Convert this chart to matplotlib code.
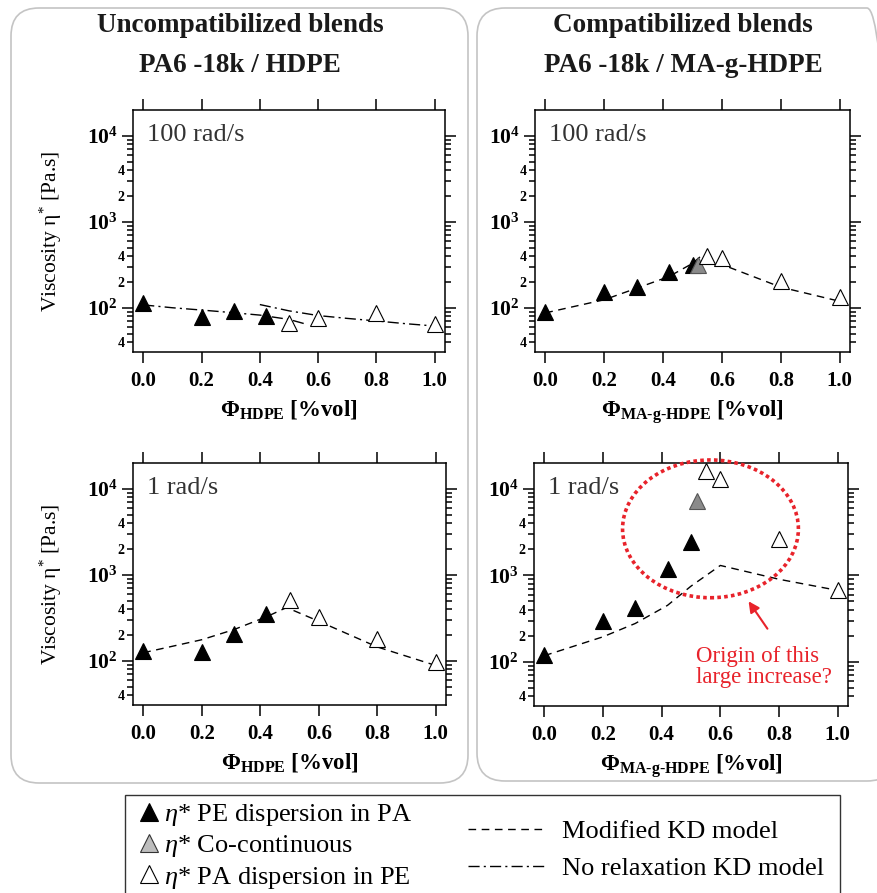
import numpy as np
import matplotlib
matplotlib.use("Agg")
import matplotlib.pyplot as plt
from matplotlib.lines import Line2D
from matplotlib.patches import FancyBboxPatch, Rectangle, Ellipse
from matplotlib.transforms import IdentityTransform

plt.rcParams['font.family'] = ['Liberation Serif', 'DejaVu Serif']
plt.rcParams['mathtext.fontset'] = 'custom'
plt.rcParams['mathtext.rm'] = 'Liberation Serif'
plt.rcParams['mathtext.it'] = 'Liberation Serif:italic'
plt.rcParams['mathtext.bf'] = 'Liberation Serif:bold'

# ---------------- data ----------------
# 100 rad/s, PA6-18k / HDPE
tl_pe_x = [0.0, 0.2, 0.31, 0.42]
tl_pe_y = [116, 79, 93, 81]
tl_pa_x = [0.5, 0.6, 0.8, 1.0]
tl_pa_y = [67, 77, 87, 65]
tl_norelax_a_x = [0.0, 0.1, 0.2, 0.3, 0.4, 0.5, 0.56]
tl_norelax_a_y = [109, 101, 95, 89, 83, 74, 65]
tl_norelax_b_x = [0.4, 0.5, 0.6, 0.7, 0.8, 0.9, 1.0]
tl_norelax_b_y = [110, 93, 82, 76, 71, 66, 62]

# 100 rad/s, PA6-18k / MA-g-HDPE
tr_pe_x = [0.0, 0.2, 0.31, 0.42, 0.5]
tr_pe_y = [89, 153, 178, 259, 315]
tr_co_x = [0.52]
tr_co_y = [312]
tr_pa_x = [0.55, 0.6, 0.8, 1.0]
tr_pa_y = [397, 383, 207, 133]
tr_kd_x = [0.0, 0.2, 0.31, 0.42, 0.5, 0.53, 0.6, 0.8, 1.0]
tr_kd_y = [88, 125, 170, 232, 330, 405, 320, 175, 120]

# 1 rad/s, PA6-18k / HDPE
bl_pe_x = [0.0, 0.2, 0.31, 0.42]
bl_pe_y = [131, 126, 207, 354]
bl_pa_x = [0.5, 0.6, 0.8, 1.0]
bl_pa_y = [515, 328, 180, 97]
bl_kd_x = [0.0, 0.2, 0.31, 0.42, 0.49, 0.6, 0.8, 1.0]
bl_kd_y = [125, 177, 232, 325, 418, 290, 146, 89]

# 1 rad/s, PA6-18k / MA-g-HDPE
br_pe_x = [0.0, 0.2, 0.31, 0.42, 0.5]
br_pe_y = [121, 300, 416, 1170, 2415]
br_co_x = [0.52]
br_co_y = [7290]
br_pa_x = [0.55, 0.6, 0.8, 1.0]
br_pa_y = [16000, 12900, 2600, 680]
br_kd_x = [0.0, 0.2, 0.31, 0.42, 0.5, 0.6, 0.8, 1.0]
br_kd_y = [118, 195, 278, 450, 750, 1300, 900, 670]

x_ticks = [0.0, 0.2, 0.4, 0.6, 0.8, 1.0]
y_major = [100, 1000, 10000]
y_minor = [m * 10.0 ** e for e in (1, 2, 3) for m in range(2, 10)]

RED = '#e8232b'
DASHED = (0, (5.5, 4))
DASHDOT = (0, (8, 3, 1.5, 3))
HY = '\u2010'

W, H = 877, 893
fig = plt.figure(figsize=(W / 100, H / 100), dpi=100)


def px_axes(left, top, right, bottom):
    return fig.add_axes([left / W, 1 - bottom / H, (right - left) / W, (bottom - top) / H])


def style(ax, xlabel_sub, ylabel=True):
    ax.set_yscale('log')
    ax.set_xticks(x_ticks, labels=['%.1f' % v for v in x_ticks],
                  fontsize=15, fontweight='bold')
    ax.set_yticks(y_major, labels=[r'$\mathbf{10^{%d}}$' % round(np.log10(v)) for v in y_major],
                  fontsize=15.5)
    minor_labels = []
    for v in y_minor:
        m = round(v / 10 ** np.floor(np.log10(v) + 1e-9))
        minor_labels.append(str(m) if m in (2, 4) else '')
    ax.set_yticks(y_minor, labels=minor_labels, minor=True, fontsize=10, fontweight='bold')
    ax.set_xlim(-0.035, 1.035)
    ax.set_ylim(31, 19800)
    ax.tick_params(which='both', direction='out', top=True, right=True, width=1.1)
    ax.tick_params(axis='x', which='major', length=8, pad=6)
    ax.tick_params(axis='y', which='major', length=8, pad=3)
    ax.tick_params(axis='y', which='minor', length=4, pad=2)
    for s in ax.spines.values():
        s.set_linewidth(1.1)
    ax.set_xlabel('Φ$_{\\mathbf{%s}}$ [%%vol]' % xlabel_sub, fontsize=16.5, fontweight='bold')
    ax.xaxis.set_label_coords(0.5, -0.19)
    if ylabel:
        ax.set_ylabel('Viscosity η$^{*}$ [Pa.s]', fontsize=15.5)
        ax.yaxis.set_label_coords(-0.222, 0.5)


def markers(ax, pe_x, pe_y, pa_x, pa_y, co_x=None, co_y=None):
    kw = dict(ls='none', marker='^', ms=12, clip_on=False, zorder=4)
    ax.plot(pe_x, pe_y, mfc='black', mec='black', mew=0.8, **kw)
    if co_x is not None:
        ax.plot(co_x, co_y, mfc='#8a8a8a', mec='#555555', mew=0.8, **kw)
    ax.plot(pa_x, pa_y, mfc='white', mec='black', mew=0.8, **kw)


def panel_label(ax, txt):
    ax.text(0.044, 0.872, txt, transform=ax.transAxes, fontsize=19,
            color='#333333', va='baseline', ha='left')


# rounded group frames
for (x0, y0, x1, y1) in [(11, 8, 468, 783), (477, 8, 895, 781)]:
    fig.add_artist(FancyBboxPatch((x0, H - y1), x1 - x0, y1 - y0,
                                  boxstyle='round,pad=0,rounding_size=28',
                                  transform=IdentityTransform(), fill=False,
                                  ec='#c4c4c4', lw=1.2))

fig.text(240 / W, 1 - 26 / H, 'Uncompatibilized blends', ha='center', va='center',
         fontsize=19.5, fontweight='bold', color='#1a1a1a')
fig.text(240 / W, 1 - 66 / H, 'PA6 -18k / HDPE', ha='center', va='center',
         fontsize=19.5, fontweight='bold', color='#1a1a1a')
fig.text(683 / W, 1 - 26 / H, 'Compatibilized blends', ha='center', va='center',
         fontsize=19.5, fontweight='bold', color='#1a1a1a')
fig.text(683 / W, 1 - 66 / H, 'PA6 -18k / MA-g-HDPE', ha='center', va='center',
         fontsize=19.5, fontweight='bold', color='#1a1a1a')

ax_tl = px_axes(133, 110, 445, 352)
ax_tr = px_axes(535, 110, 850, 352)
ax_bl = px_axes(133, 463, 446, 705)
ax_br = px_axes(534, 463, 848, 706)

ma_sub = 'MA' + HY + 'g' + HY + 'HDPE'

# top-left
ax_tl.plot(tl_norelax_a_x, tl_norelax_a_y, color='black', lw=1.0, ls=DASHDOT)
ax_tl.plot(tl_norelax_b_x, tl_norelax_b_y, color='black', lw=1.0, ls=DASHDOT)
markers(ax_tl, tl_pe_x, tl_pe_y, tl_pa_x, tl_pa_y)
style(ax_tl, 'HDPE')
panel_label(ax_tl, '100 rad/s')

# top-right
ax_tr.plot(tr_kd_x, tr_kd_y, color='black', lw=1.0, ls=DASHED)
markers(ax_tr, tr_pe_x, tr_pe_y, tr_pa_x, tr_pa_y, tr_co_x, tr_co_y)
style(ax_tr, ma_sub, ylabel=False)
panel_label(ax_tr, '100 rad/s')

# bottom-left
ax_bl.plot(bl_kd_x, bl_kd_y, color='black', lw=1.0, ls=DASHED)
markers(ax_bl, bl_pe_x, bl_pe_y, bl_pa_x, bl_pa_y)
style(ax_bl, 'HDPE')
panel_label(ax_bl, '1 rad/s')

# bottom-right
ax_br.plot(br_kd_x, br_kd_y, color='black', lw=1.0, ls=DASHED)
markers(ax_br, br_pe_x, br_pe_y, br_pa_x, br_pa_y, br_co_x, br_co_y)
style(ax_br, ma_sub, ylabel=False)
panel_label(ax_br, '1 rad/s')

ax_br.add_patch(Ellipse((0.562, 0.729), 0.56, 0.567, transform=ax_br.transAxes,
                        fill=False, ec=RED, lw=2.6, ls=(0, (1, 0.9)), clip_on=False,
                        zorder=5))
fig.text(696 / W, 1 - 667 / H, 'Origin of this\nlarge increase?', color=RED,
         fontsize=16.5, ha='left', va='center', linespacing=1.05)
ax_br.annotate('', xy=(747, H - 599), xycoords='figure pixels',
               xytext=(769, H - 631), textcoords='figure pixels',
               arrowprops=dict(arrowstyle='-|>', color=RED, lw=1.5, mutation_scale=16))

# legend
fig.add_artist(Rectangle((125, -10), 840 - 125, H - 795 + 10, transform=IdentityTransform(),
                         fill=False, ec='#333333', lw=1.0))
mk = dict(ls='none', marker='^', ms=13, mew=0.8)
h1 = [Line2D([], [], mfc='black', mec='black', **mk),
      Line2D([], [], mfc='#bdbdbd', mec='#333333', **mk),
      Line2D([], [], mfc='white', mec='black', **mk)]
l1 = [r'$\eta$* PE dispersion in PA', r'$\eta$* Co-continuous', r'$\eta$* PA dispersion in PE']
fig.legend(h1, l1, loc='upper left', bbox_to_anchor=(138 / W, 1 - 802 / H),
           frameon=False, fontsize=19, handlelength=0.8, handletextpad=0.2,
           labelspacing=0.2, borderpad=0, borderaxespad=0)
h2 = [Line2D([], [], color='black', lw=1.0, ls=DASHED),
      Line2D([], [], color='black', lw=1.0, ls=DASHDOT)]
l2 = ['Modified KD model', 'No relaxation KD model']
fig.legend(h2, l2, loc='upper left', bbox_to_anchor=(468 / W, 1 - 820 / H),
           frameon=False, fontsize=19, handlelength=2.9, handletextpad=0.65,
           labelspacing=0.5, borderpad=0, borderaxespad=0)

fig.savefig('out.png', dpi=100)
